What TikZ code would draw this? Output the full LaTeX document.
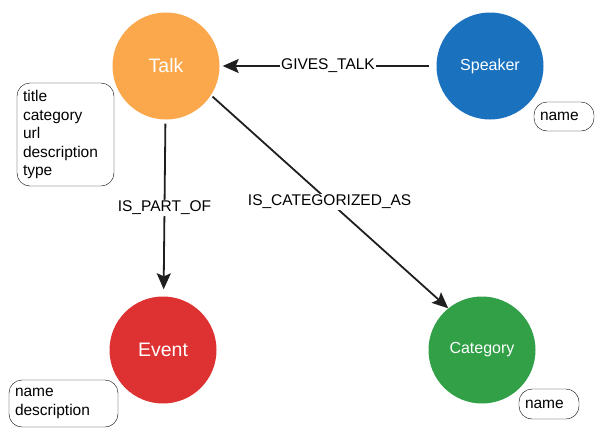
\documentclass[tikz,border=0pt]{standalone}
\usepackage{fontspec}
\setmainfont{Liberation Sans}
\usetikzlibrary{arrows.meta}
\definecolor{talkcol}{HTML}{FBA84C}
\definecolor{speakercol}{HTML}{1A72BF}
\definecolor{eventcol}{HTML}{DE3232}
\definecolor{categorycol}{HTML}{31A047}

\begin{document}
\begin{tikzpicture}[x=1pt, y=-1pt,
  entity/.style={circle, minimum size=107pt, inner sep=0pt, text=white},
  props/.style={draw, rounded corners=13pt, align=left, inner xsep=6pt, inner ysep=0pt, font=\fontsize{15.5}{18.5}\selectfont},
  rel/.style={-{Stealth[length=16pt, width=14pt, inset=3pt]}, line width=1.8pt, draw=black!88},
  rellabel/.style={fill=white, inner sep=1pt, font=\fontsize{15.5}{18}\selectfont}]
  \useasboundingbox (0,0) rectangle (604,437);

  \node[entity, fill=talkcol, font=\fontsize{19.5}{22}\selectfont] (talk) at (166,66) {Talk};
  \node[entity, fill=speakercol, font=\fontsize{16}{19}\selectfont] (speaker) at (490,66) {Speaker};
  \node[entity, fill=eventcol, font=\fontsize{19.5}{22}\selectfont] (event) at (163,350) {Event};
  \node[entity, fill=categorycol, font=\fontsize{16}{19}\selectfont] (category) at (482,350) {Category};

  % properties
  \node[props, text width=85pt, minimum height=103pt] (talkprops) at (65.5,134.5) {title\\category\\url\\description\\type};
  \node[props, text width=48pt, minimum height=29pt] (speakerprops) at (564,116.5) {name};
  \node[props, text width=97pt, minimum height=47pt] (eventprops) at (63.5,403.5) {name\\description};
  \node[props, text width=48pt, minimum height=30pt] (categoryprops) at (549,404) {name};

  \draw[rel, shorten <=7pt, shorten >=3pt] (speaker) -- (talk) node[midway, rellabel] {GIVES\_TALK};
  \draw[rel, shorten <=4pt, shorten >=7pt] (talk) -- (event) node[midway, rellabel] {IS\_PART\_OF};
  \draw[rel, shorten <=2pt] (talk.-33) -- (category.129) node[midway, rellabel] {IS\_CATEGORIZED\_AS};
\end{tikzpicture}
\end{document}
